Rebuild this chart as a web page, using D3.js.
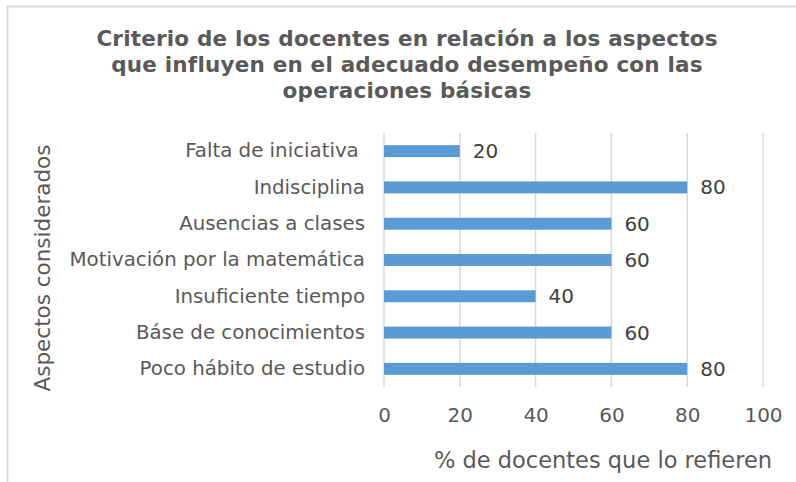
<!DOCTYPE html>
<html>
<head>
<meta charset="utf-8">
<script src="https://cdn.jsdelivr.net/npm/d3@7"></script>
<style>
  body { margin: 0; background: #fff; }
  svg text { font-family: "DejaVu Sans", Verdana, sans-serif; white-space: pre; }
</style>
</head>
<body>
<svg id="chart" width="796" height="482"></svg>
<script>
var categories = ["Falta de iniciativa ", "Indisciplina", "Ausencias a clases",
    "Motivación por la matemática", "Insuficiente tiempo",
    "Báse de conocimientos", "Poco hábito de estudio"];
var values = [20, 80, 60, 60, 40, 60, 80];
var xTicks = [0, 20, 40, 60, 80, 100];
var titleLines = ["Criterio de los docentes en relación a los aspectos",
    "que influyen en el adecuado desempeño con las",
    "operaciones básicas"];

var svg = d3.select("#chart");
var margin = {top: 133, left: 384, right: 33, bottom: 95};
var W = 796, H = 482;

/** chart frame (only top and left show in the picture) **/
svg.append("rect")
    .attr("x", 7.5).attr("y", 6.5)
    .attr("width", 800).attr("height", 500)
    .attr("fill", "none")
    .attr("stroke", "#d9d9d9")
    .attr("stroke-width", 2);

/** title **/
svg.append("g").selectAll("text")
    .data(titleLines)
    .enter().append("text")
    .attr("x", 407)
    .attr("y", function (d, i) { return 46 + i * 26; })
    .attr("text-anchor", "middle")
    .style("font-size", "21.5px")
    .style("font-weight", "bold")
    .style("letter-spacing", "0.2px")
    .style("fill", "#595959")
    .text(function (d) { return d; });

var x = d3.scaleLinear()
    .domain([0, 100])
    .range([margin.left, W - margin.right]);

var y = d3.scaleBand()
    .domain(categories)
    .range([margin.top, H - margin.bottom])
    .paddingInner(0.67)
    .paddingOuter(0.335);

/** vertical gridlines **/
svg.append("g").selectAll("line")
    .data(xTicks)
    .enter().append("line")
    .attr("x1", function (d) { return x(d); })
    .attr("x2", function (d) { return x(d); })
    .attr("y1", margin.top)
    .attr("y2", H - margin.bottom)
    .attr("stroke", "#d9d9d9")
    .attr("stroke-width", 1.5);

/** x axis tick labels **/
var xAxis = svg.append("g")
    .attr("transform", "translate(0," + (H - margin.bottom) + ")")
    .call(d3.axisBottom(x).tickValues(xTicks).tickSize(0).tickPadding(21));
xAxis.select(".domain").remove();
xAxis.selectAll("text")
    .style("font-size", "20px")
    .style("fill", "#595959");

/** y axis category labels **/
var yAxis = svg.append("g")
    .attr("transform", "translate(" + margin.left + ",0)")
    .call(d3.axisLeft(y).tickSize(0).tickPadding(19));
yAxis.select(".domain").remove();
yAxis.selectAll("text")
    .style("font-size", "19.8px")
    .style("fill", "#595959");

/** bars **/
svg.append("g").selectAll("rect")
    .data(values)
    .enter().append("rect")
    .attr("x", x(0))
    .attr("y", function (d, i) { return y(categories[i]); })
    .attr("width", function (d) { return x(d) - x(0); })
    .attr("height", y.bandwidth())
    .attr("fill", "#5b9bd5");

/** value labels **/
svg.append("g").selectAll("text")
    .data(values)
    .enter().append("text")
    .attr("x", function (d) { return x(d) + 13; })
    .attr("y", function (d, i) { return y(categories[i]) + y.bandwidth() / 2; })
    .attr("dy", "0.35em")
    .style("font-size", "20px")
    .style("fill", "#404040")
    .text(function (d) { return d; });

/** axis titles **/
svg.append("text")
    .attr("x", 603)
    .attr("y", 468)
    .attr("text-anchor", "middle")
    .style("font-size", "22.5px")
    .style("fill", "#595959")
    .text("% de docentes que lo refieren");

svg.append("text")
    .attr("transform", "translate(50," + 268 + ") rotate(-90)")
    .attr("text-anchor", "middle")
    .style("font-size", "21.5px")
    .style("fill", "#595959")
    .text("Aspectos considerados");
</script>
</body>
</html>
